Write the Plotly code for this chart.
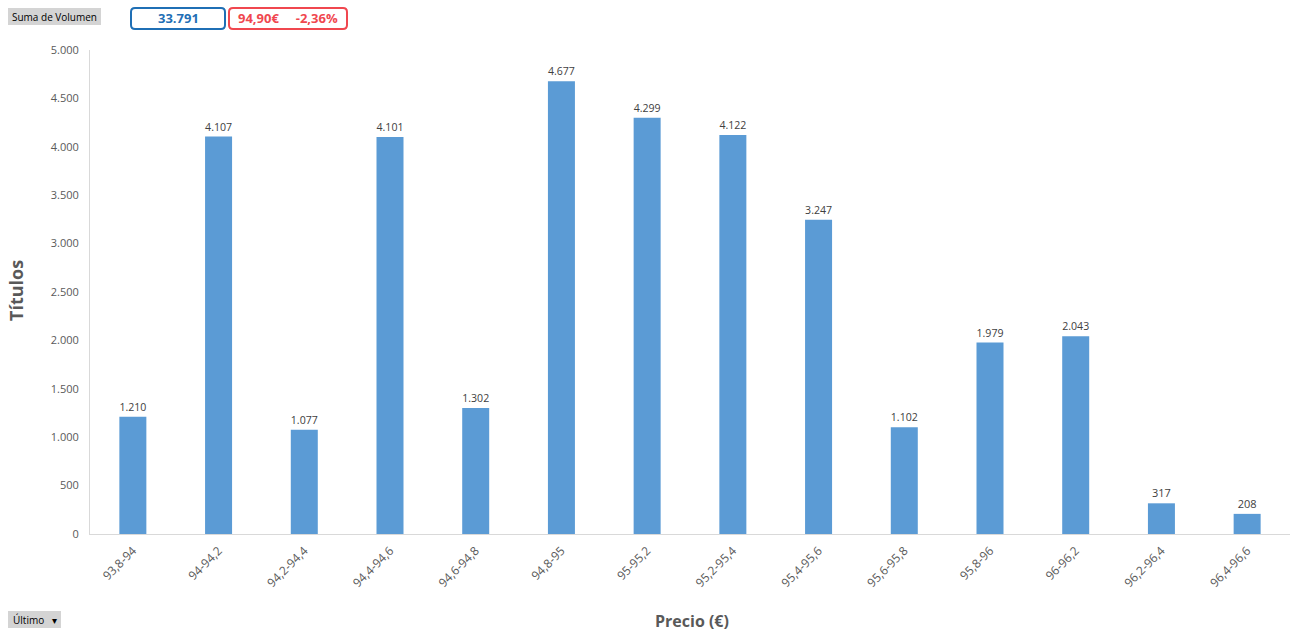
import plotly.graph_objects as go

categorias = ["93,8-94", "94-94,2", "94,2-94,4", "94,4-94,6", "94,6-94,8", "94,8-95", "95-95,2",
              "95,2-95,4", "95,4-95,6", "95,6-95,8", "95,8-96", "96-96,2", "96,2-96,4", "96,4-96,6"]
volumen = [1210, 4107, 1077, 4101, 1302, 4677, 4299, 4122, 3247, 1102, 1979, 2043, 317, 208]
y_ticks = [0, 500, 1000, 1500, 2000, 2500, 3000, 3500, 4000, 4500, 5000]

def fmt(v):
    return f"{v:,}".replace(",", ".")

W, H = 1290, 634
L, R, T, B = 90, 0, 50, 100
PW, PH = W - L - R, H - T - B

def px(x):
    return (x - L) / PW

def py(y):
    return 1 - (y - T) / PH

fig = go.Figure()
fig.add_trace(go.Bar(
    x=categorias, y=volumen,
    marker=dict(color="#5b9bd5", line=dict(width=0)),
    width=0.315,
    text=[fmt(v) for v in volumen],
    textposition="outside",
    textfont=dict(size=11, color="#404040", family="Open Sans, sans-serif"),
    cliponaxis=False,
    hoverinfo="skip",
))

shapes = []
annotations = []

def rpath(x0, y0, x1, y1, r):
    pts = []
    def P(x, y):
        return f"{px(x):.5f},{py(y):.5f}"
    return (f"M{P(x0 + r, y0)} L{P(x1 - r, y0)} Q{P(x1, y0)} {P(x1, y0 + r)} "
            f"L{P(x1, y1 - r)} Q{P(x1, y1)} {P(x1 - r, y1)} L{P(x0 + r, y1)} "
            f"Q{P(x0, y1)} {P(x0, y1 - r)} L{P(x0, y0 + r)} Q{P(x0, y0)} {P(x0 + r, y0)} Z")

def box(x0, y0, x1, y1, text, color, border, bg, bold=False, size=12, rounded=False):
    if rounded:
        shapes.append(dict(type="path", xref="paper", yref="paper", path=rpath(x0, y0, x1, y1, 4),
                           line=dict(color=border, width=2), fillcolor=bg, layer="above"))
    else:
        shapes.append(dict(type="rect", xref="paper", yref="paper",
                           x0=px(x0), x1=px(x1), y0=py(y1), y1=py(y0),
                           line=dict(color=border, width=0), fillcolor=bg, layer="above"))
    annotations.append(dict(xref="paper", yref="paper", x=px((x0 + x1) / 2), y=py((y0 + y1) / 2),
                            text=(f"<b>{text}</b>" if bold else text), showarrow=False,
                            xanchor="center", yanchor="middle",
                            font=dict(size=size, color=color, family="Open Sans, sans-serif")))

box(8, 8, 101, 25, "Suma de Volumen", "#000000", "#d0d0d0", "#d4d4d4", size=10)
box(131, 8, 225, 29, "33.791", "#1f6fb5", "#1f6fb5", "#ffffff", bold=True, size=13, rounded=True)
box(229, 8, 347, 29, "94,90€&nbsp;&nbsp;&nbsp;&nbsp;&nbsp;-2,36%", "#f0474f", "#f0474f", "#ffffff", bold=True, size=13, rounded=True)
box(8, 611, 61, 628, "Último&nbsp;&nbsp;&nbsp;▾", "#000000", "#d4d4d4", "#d4d4d4", size=10)

annotations.append(dict(xref="paper", yref="paper", x=px(16), y=py(291), text="<b>Títulos</b>",
                        textangle=-90, showarrow=False, xanchor="center", yanchor="middle",
                        font=dict(size=18, color="#595959", family="Open Sans, sans-serif")))
annotations.append(dict(xref="paper", yref="paper", x=px(692), y=py(621), text="<b>Precio (€)</b>",
                        showarrow=False, xanchor="center", yanchor="middle",
                        font=dict(size=16, color="#595959", family="Open Sans, sans-serif")))

fig.update_layout(
    width=W, height=H,
    margin=dict(l=L, r=R, t=T, b=B),
    paper_bgcolor="white", plot_bgcolor="white",
    separators=",.",
    showlegend=False,
    bargap=0.685,
    font=dict(family="Open Sans, sans-serif", size=11, color="#595959"),
    xaxis=dict(tickangle=-45, showgrid=False, showline=True, linecolor="#d9d9d9", linewidth=1,
               ticks="", tickfont=dict(size=12, color="#595959"), ticklabelstandoff=4),
    yaxis=dict(range=[0, 5000], tickvals=y_ticks, ticktext=[fmt(v) for v in y_ticks],
               showgrid=False, showline=True, linecolor="#d9d9d9", linewidth=1, zeroline=False,
               ticks="", tickfont=dict(size=11, color="#595959"), ticklabelstandoff=8),
    shapes=shapes,
    annotations=annotations,
)

fig.write_html("out.html")
